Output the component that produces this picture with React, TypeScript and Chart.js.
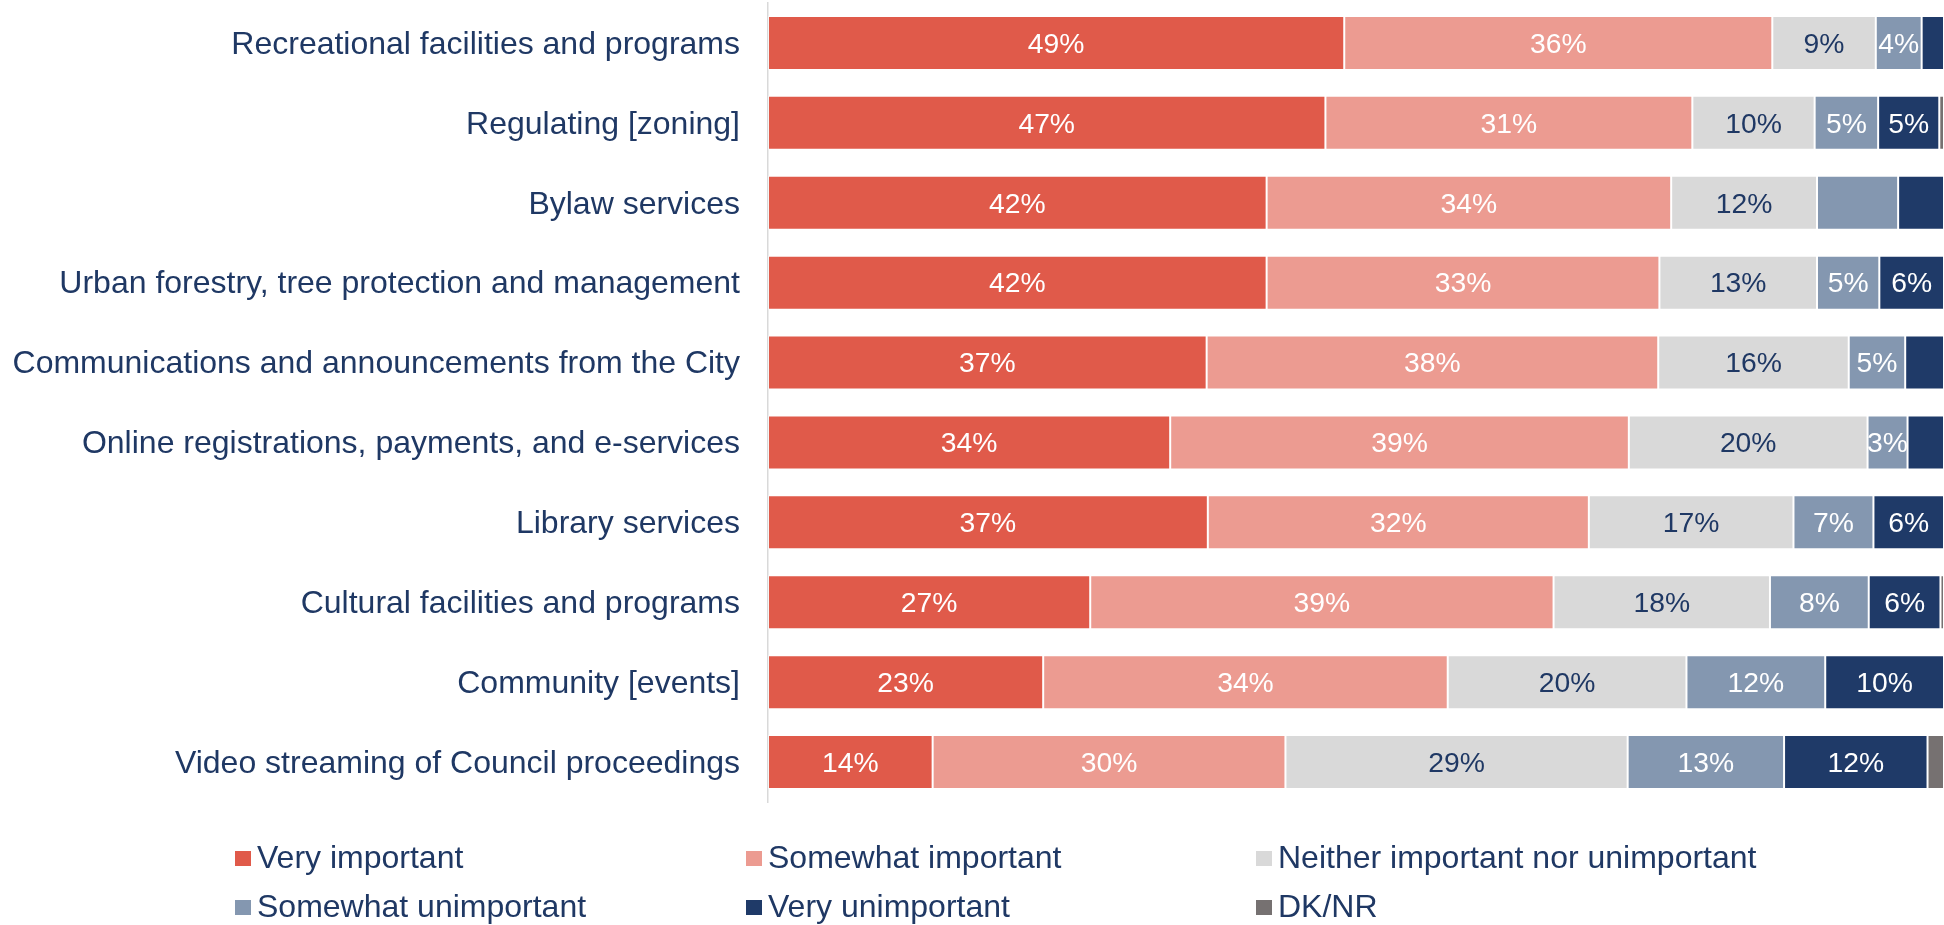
import { useEffect, useRef } from 'react';
import { Chart, registerables } from 'chart.js';

Chart.register(...registerables);

const categories = [
  'Recreational facilities and programs',
  'Regulating [zoning]',
  'Bylaw services',
  'Urban forestry, tree protection and management',
  'Communications and announcements from the City',
  'Online registrations, payments, and e-services',
  'Library services',
  'Cultural facilities and programs',
  'Community [events]',
  'Video streaming of Council proceedings',
];

const veryImportant = [49.0, 47.4, 42.4, 42.4, 37.3, 34.2, 37.4, 27.4, 23.4, 14.0];
const somewhatImportant = [36.4, 31.2, 34.4, 33.4, 38.4, 39.0, 32.4, 39.4, 34.4, 30.0];
const neither = [8.8, 10.4, 12.4, 13.4, 16.2, 20.3, 17.4, 18.4, 20.3, 29.1];
const somewhatUnimportant = [3.9, 5.4, 6.9, 5.3, 4.8, 3.4, 6.8, 8.4, 11.8, 13.3];
const veryUnimportant = [1.9, 5.2, 3.9, 5.5, 3.3, 3.1, 6.0, 6.1, 10.1, 12.2];
const dkNr = [0, 0.4, 0, 0, 0, 0, 0, 0.3, 0, 1.4];

const seriesNames = [
  'Very important',
  'Somewhat important',
  'Neither important nor unimportant',
  'Somewhat unimportant',
  'Very unimportant',
  'DK/NR',
];
const seriesValues = [veryImportant, somewhatImportant, neither, somewhatUnimportant, veryUnimportant, dkNr];
const seriesColors = ['#E05A4A', '#EC9B91', '#D9D9D9', '#8497B0', '#1F3A68', '#767171'];
const labelColors = ['#FFFFFF', '#FFFFFF', '#1F3864', '#FFFFFF', '#FFFFFF', '#FFFFFF'];
const seriesLabelShown = [true, true, true, true, true, false];
// [categoryIndex, seriesIndex] segments that carry no value label in the original
const unlabeled = [[0, 4], [2, 3], [2, 4], [4, 4], [5, 4]];

const FONT = '"Liberation Sans", Arial, sans-serif';
const NAVY = '#1F3864';

export default function App() {
  const ref = useRef<HTMLCanvasElement | null>(null);

  useEffect(() => {
    document.body.style.margin = '0';
    const canvas = ref.current;
    if (!canvas) return;

    const valueLabels = {
      id: 'valueLabels',
      afterDatasetsDraw(chart: any) {
        const ctx = chart.ctx;
        ctx.save();
        ctx.font = `28.3px ${FONT}`;
        ctx.textAlign = 'center';
        ctx.textBaseline = 'middle';
        chart.data.datasets.forEach((ds: any, i: number) => {
          if (!seriesLabelShown[i]) return;
          const meta = chart.getDatasetMeta(i);
          meta.data.forEach((bar: any, j: number) => {
            const v = ds.data[j];
            if (!v) return;
            if (unlabeled.some(([c, s]) => c === j && s === i)) return;
            const p = bar.getProps(['x', 'y', 'base'], true);
            ctx.fillStyle = labelColors[i];
            ctx.fillText(`${Math.round(v)}%`, (p.x + p.base) / 2, p.y + 2);
          });
        });
        ctx.restore();
      },
    };

    const gridLegend = {
      id: 'gridLegend',
      afterDraw(chart: any) {
        const ctx = chart.ctx;
        ctx.save();
        ctx.font = `32px ${FONT}`;
        ctx.textAlign = 'left';
        ctx.textBaseline = 'alphabetic';
        const cols = [235, 746, 1256];
        const rows = [851, 900];
        seriesNames.forEach((name, i) => {
          const x = cols[i % 3];
          const y = rows[Math.floor(i / 3)];
          ctx.fillStyle = seriesColors[i];
          ctx.fillRect(x, y, 16, 15);
          ctx.fillStyle = NAVY;
          ctx.fillText(name, x + 22, y + 17);
        });
        ctx.restore();
      },
    };

    const chart = new Chart(canvas, {
      type: 'bar',
      data: {
        labels: categories,
        datasets: seriesNames.map((name, i) => ({
          label: name,
          data: seriesValues[i],
          backgroundColor: seriesColors[i],
          borderColor: 'rgba(255,255,255,0.55)',
          borderWidth: 1,
          borderSkipped: false,
          categoryPercentage: 1,
          barPercentage: 0.676,
        })),
      },
      options: {
        indexAxis: 'y',
        responsive: false,
        animation: false,
        layout: { padding: { top: 3, bottom: 123, left: 0, right: 0 } },
        scales: {
          x: { type: 'linear', stacked: true, min: 0, max: 100, display: false },
          y: {
            type: 'category',
            stacked: true,
            grid: { display: false },
            border: { display: true, color: '#D9D9D9', width: 1.5 },
            ticks: { color: NAVY, font: { family: FONT, size: 32 }, padding: 20, labelOffset: 2 },
            afterFit(scale: any) {
              scale.width = 768;
              scale.paddingTop = 0;
              scale.paddingBottom = 0;
            },
          },
        },
        plugins: {
          legend: { display: false },
          tooltip: { enabled: false },
        },
      },
      plugins: [valueLabels, gridLegend],
    });

    return () => chart.destroy();
  }, []);

  return <canvas ref={ref} width={1944} height={925} style={{ display: 'block' }} />;
}
